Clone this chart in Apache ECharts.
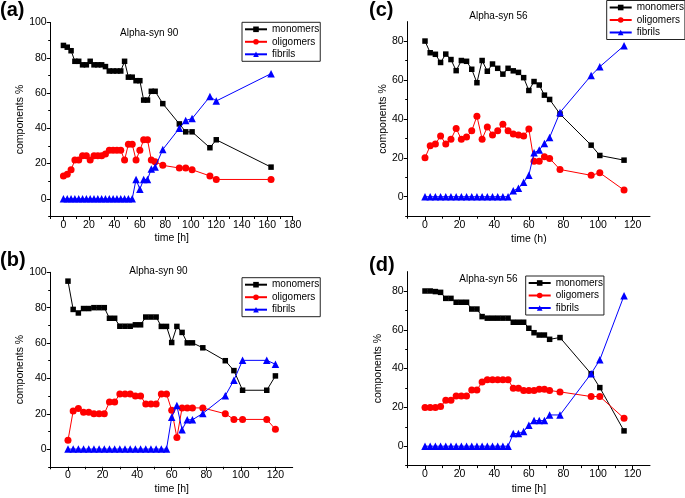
<!DOCTYPE html>
<html><head><meta charset="utf-8">
<script src="https://cdn.jsdelivr.net/npm/echarts@6/dist/echarts.min.js"></script>
<style>html,body{margin:0;padding:0;background:#fff}#c{width:685px;height:498px}</style>
</head><body><div id="c"></div>
<script>
// ---- Data ----
const timeA = [0,3,6,9,12,15,18,21,24,27,30,33,36,39,42,45,48,51,54,57,60,63,66,69,72,78,91,96,101,115,120,163];
const monoA = [87,86,84,78,78,76,76,78,76,76,76,75,72.5,72.5,72.5,72.5,78,69,69,67,67,56,56,61,61,54,42.5,38,38,29,33.5,18];
const oligoA = [13,14,16.5,22,22,24.5,24.5,22,24.5,24.5,24.5,25.5,27.5,27.5,27.5,27.5,22,31,31,22,27.5,33.5,33.5,22,21,19,17.5,17.5,16.5,13,11,11];
const fibA = [0,0,0,0,0,0,0,0,0,0,0,0,0,0,0,0,0,0,0,11,5.5,11,11,17,18,28,40,44.5,45.5,58,55.5,71];

const timeB = [0,3,6,9,12,15,18,21,24,27,30,33,36,39,42,45,48,51,54,57,60,63,66,69,72,78,91,96,101,115,120];
const monoB = [95,79,77,79.5,79.5,80,80,80,74,74,69.5,69.5,69.5,70.3,70.3,74.7,74.7,74.7,69.4,69.4,60.3,69.4,66,60.1,60.1,57.3,50,44.4,33.3,33.3,41.4];
const oligoB = [5,21.5,23,20.8,20.8,20,20,20,26.7,26.7,31.2,31.2,31.2,30,30,25.5,25.5,25.5,31.2,31.2,22,6.6,23.3,23.3,23.3,23.3,20,16.8,16.8,16.8,11.2];
const fibB = [0,0,0,0,0,0,0,0,0,0,0,0,0,0,0,0,0,0,0,0,18,24.6,11,16.6,16.6,20.2,30.2,39,50.2,50.2,48];

const timeC = [0,3,6,9,12,15,18,21,24,27,30,33,36,39,42,45,48,51,54,57,60,63,66,69,72,78,96,101,115];
const monoC = [80,74,73.2,69,73.3,70.5,64.8,70,69.6,65.5,58.6,70,64.5,68.2,66,63,66,64.7,63.9,61.2,54.6,59.2,57.4,52.2,50,42.5,26.5,21.2,18.8];
const oligoC = [20,26.2,27.1,31.2,27.1,29.5,35.1,29.5,30.7,33.9,41.4,29.6,35.9,31.7,33.9,37.2,33.9,32.2,31.7,31.2,34.8,18.3,18.3,20.5,19.7,14,11,12.3,3.4];
const fibC = [0,0,0,0,0,0,0,0,0,0,0,0,0,0,0,0,0,3.1,4.3,7.4,11.1,22.6,24,27.4,30.5,43.3,62.3,66.8,77.6];

const timeD = [0,3,6,9,12,15,18,21,24,27,30,33,36,39,42,45,48,51,54,57,60,63,66,69,72,78,96,101,115];
const monoD = [80,80,79.7,79.3,76.2,76.2,74.2,74.2,74.2,70.7,70.7,66.8,66,66,66,66,66,63.9,63.9,63.9,60.8,58.5,57.3,57.3,55.1,56,37.3,30.2,7.9];
const oligoD = [19.9,19.9,19.9,20.4,23.7,23.7,25.9,25.9,25.9,29,29,33.1,34.2,34.2,34.2,34.2,34.2,29.9,29.9,28.7,28.7,28.7,29.4,29.4,28.7,28,25.6,25.6,14.4];
const fibD = [0,0,0,0,0,0,0,0,0,0,0,0,0,0,0,0,0,6.5,6.5,7.6,10.8,13.2,13.2,13.2,16.1,16.1,37.4,44.5,77.6];

const seriesNames = ['monomers','oligomers','fibrils'];
const panelTitles = ['Alpha-syn 90','Alpha-syn 90','Alpha-syn 56','Alpha-syn 56'];
const panelLabels = ['(a)','(b)','(c)','(d)'];
const xNames = ['time [h]','time [h]','time (h)','time [h]'];
const yName = 'components %';
const xTicksA = [0,20,40,60,80,100,120,140,160,180];
const xTicksB = [0,20,40,60,80,100,120];
const yTicks100 = [0,20,40,60,80,100];
const yTicks90 = [0,20,40,60,80];

// ---- Layout / style ----
const FONT = '"Liberation Sans", Arial, sans-serif';
const colors = ['#000000','#ff0000','#0000ff'];
const symbols = ['rect','circle','triangle'];
const symSizes = [5.5,7,7.5];

const panels = [
  {t:timeA, v:[monoA,oligoA,fibA], grid:{left:50.7, top:22.5, width:242, height:194}, xmax:180, ymax:100, xt:xTicksA, yt:yTicks100, xGap:16, yGap:20.5, legend:{left:242, top:22.3}, title:{left:120, top:28.5}, label:{left:0, top:0}},
  {t:timeB, v:[monoB,oligoB,fibB], grid:{left:50.7, top:272.3, width:242, height:194.5}, xmax:130, ymax:100, xt:xTicksB, yt:yTicks100, xGap:17, yGap:20.5, legend:{left:242, top:277.7}, title:{left:129.3, top:266}, label:{left:0, top:250.5}},
  {t:timeC, v:[monoC,oligoC,fibC], grid:{left:407.7, top:21.6, width:242.3, height:194.6}, xmax:130, ymax:90, xt:xTicksB, yt:yTicks90, xGap:17.5, yGap:16.5, legend:{left:606.7, top:0.5}, title:{left:469.3, top:11}, label:{left:369, top:0.5}},
  {t:timeD, v:[monoD,oligoD,fibD], grid:{left:407.7, top:271.6, width:242.3, height:194}, xmax:130, ymax:90, xt:xTicksB, yt:yTicks90, xGap:18, yGap:24.5, legend:{left:525.7, top:276}, title:{left:459.3, top:274}, label:{left:369, top:255.5}}
];

function minorsOf(ticks){ return ticks.map(v=>v-10); }

const grid=[], xAxis=[], yAxis=[], series=[], legend=[], graphic=[];
panels.forEach((p,g)=>{
  grid.push(Object.assign({containLabel:false}, p.grid));
  const base = {type:'value', gridIndex:g, min:-10, interval:10, splitLine:{show:false}, minorTick:{show:false}};
  xAxis.push(Object.assign({}, base, {
    max:p.xmax, position:'bottom', name:xNames[g], nameLocation:'middle', nameGap:p.xGap,
    nameTextStyle:{fontSize:10.5, color:'#000', fontFamily:FONT},
    axisLine:{onZero:false, lineStyle:{color:'#000', width:1}},
    axisTick:{show:true, inside:false, length:4, lineStyle:{color:'#000'}, customValues:p.xt},
    axisLabel:{show:true, customValues:p.xt, fontSize:10.5, color:'#000', margin:3, fontFamily:FONT,
      formatter:v=> (v%20===0 ? String(v) : '')}
  }));
  xAxis.push(Object.assign({}, base, {
    max:p.xmax, position:'bottom',
    axisLine:{show:false, onZero:false},
    axisTick:{show:true, inside:false, length:2.5, lineStyle:{color:'#000'}, customValues:minorsOf(p.xt)},
    axisLabel:{show:false}
  }));
  yAxis.push(Object.assign({}, base, {
    max:p.ymax, position:'left', name:yName, nameLocation:'middle', nameGap:p.yGap, nameRotate:90,
    nameTextStyle:{fontSize:10.5, color:'#000', fontFamily:FONT},
    axisLine:{onZero:false, lineStyle:{color:'#000', width:1}},
    axisTick:{show:true, inside:false, length:4, lineStyle:{color:'#000'}, customValues:p.yt},
    axisLabel:{show:true, customValues:p.yt, fontSize:10.5, color:'#000', margin:4, fontFamily:FONT,
      formatter:v=> (v%20===0 ? String(v) : '')}
  }));
  yAxis.push(Object.assign({}, base, {
    max:p.ymax, position:'left',
    axisLine:{show:false, onZero:false},
    axisTick:{show:true, inside:false, length:2.5, lineStyle:{color:'#000'}, customValues:minorsOf(p.yt)},
    axisLabel:{show:false}
  }));
  p.v.forEach((vals,k)=>{
    series.push({
      type:'line', name:seriesNames[k], xAxisIndex:2*g, yAxisIndex:2*g,
      data:p.t.map((x,i)=>[x, vals[i]]),
      symbol:symbols[k], symbolSize:symSizes[k], showAllSymbol:true,
      itemStyle:{color:colors[k]}, lineStyle:{color:colors[k], width:1},
      z: 2+k, animation:false
    });
  });
  legend.push({
    data:seriesNames, orient:'vertical', left:p.legend.left, top:p.legend.top,
    itemWidth:22, itemHeight:7, itemGap:0.5, padding:[1,1,1,2],
    borderColor:'#222', borderWidth:1, backgroundColor:'#fff',
    textStyle:{fontSize:10, color:'#000', fontFamily:FONT, lineHeight:12},
    selectedMode:false
  });
  graphic.push({type:'text', left:p.title.left, top:p.title.top,
    style:{text:panelTitles[g], fontSize:10, fill:'#000', fontFamily:FONT}});
  graphic.push({type:'text', left:p.label.left, top:p.label.top,
    style:{text:panelLabels[g], fontSize:20, fontWeight:'bold', fill:'#000', fontFamily:FONT}});
});

const chart = echarts.init(document.getElementById('c'), null, {renderer:'canvas'});
chart.setOption({animation:false, backgroundColor:'#fff', grid, xAxis, yAxis, series, legend, graphic});
</script></body></html>
